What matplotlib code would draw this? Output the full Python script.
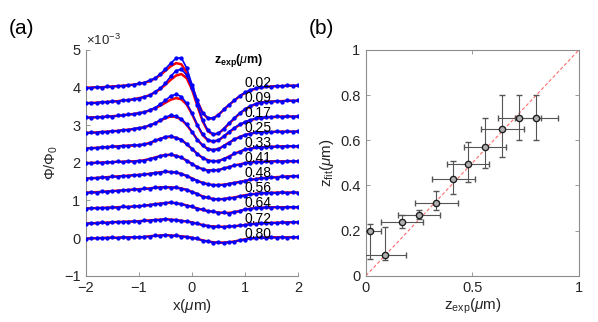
import matplotlib
matplotlib.use("Agg")
import matplotlib.pyplot as plt
import numpy as np

plt.rcParams['font.family'] = ['Liberation Sans', 'DejaVu Sans']
plt.rcParams['mathtext.fontset'] = 'custom'
plt.rcParams['mathtext.rm'] = 'Liberation Sans'
plt.rcParams['mathtext.it'] = 'Liberation Sans:italic'
plt.rcParams['mathtext.bf'] = 'Liberation Sans:bold'

# ---- panel (a): flux profiles, units of 1e-3, stacked ----
x_pos = [-2.0, -1.9, -1.8, -1.7, -1.6, -1.5, -1.4, -1.3, -1.2, -1.1, -1.0,
         -0.9, -0.8, -0.7, -0.6, -0.5, -0.4, -0.3, -0.2, -0.1, 0.0,
         0.1, 0.2, 0.3, 0.4, 0.5, 0.6, 0.7, 0.8, 0.9, 1.0,
         1.1, 1.2, 1.3, 1.4, 1.5, 1.6, 1.7, 1.8, 1.9, 2.0]
z_labels = ['0.02', '0.09', '0.17', '0.25', '0.33', '0.41', '0.48', '0.56', '0.64', '0.72', '0.80']
label_y = [4.12, 3.72, 3.32, 2.92, 2.52, 2.12, 1.72, 1.32, 0.92, 0.52, 0.12]

fit_002 = [4.00, 4.00, 4.01, 4.01, 4.02, 4.03, 4.04, 4.05, 4.06, 4.08, 4.10, 4.13, 4.17, 4.24, 4.33, 4.45, 4.57, 4.65, 4.62, 4.40, 4.03,
           3.64, 3.33, 3.18, 3.18, 3.28, 3.41, 3.54, 3.66, 3.77, 3.86, 3.92, 3.97, 4.00, 4.02, 4.03, 4.04, 4.04, 4.05, 4.05, 4.05]
dat_002 = [4.00, 3.99, 4.02, 4.00, 4.03, 4.02, 4.05, 4.04, 4.07, 4.08, 4.11, 4.13, 4.19, 4.25, 4.36, 4.50, 4.65, 4.78, 4.79, 4.52, 4.08,
           3.66, 3.32, 3.20, 3.19, 3.27, 3.42, 3.55, 3.66, 3.78, 3.87, 3.94, 3.98, 4.01, 4.03, 4.02, 4.05, 4.04, 4.06, 4.05, 4.06]
fit_009 = [3.59, 3.59, 3.60, 3.61, 3.62, 3.63, 3.64, 3.66, 3.67, 3.69, 3.72, 3.75, 3.80, 3.87, 3.96, 4.08, 4.21, 4.32, 4.36, 4.25, 3.95,
           3.52, 3.11, 2.84, 2.75, 2.78, 2.90, 3.04, 3.18, 3.31, 3.42, 3.50, 3.56, 3.60, 3.62, 3.63, 3.64, 3.64, 3.65, 3.65, 3.65]
dat_009 = [3.58, 3.60, 3.59, 3.62, 3.61, 3.64, 3.63, 3.67, 3.66, 3.70, 3.71, 3.76, 3.79, 3.89, 3.98, 4.12, 4.30, 4.45, 4.49, 4.33, 3.99,
           3.55, 3.13, 2.86, 2.77, 2.78, 2.91, 3.06, 3.19, 3.32, 3.43, 3.51, 3.57, 3.60, 3.63, 3.62, 3.65, 3.63, 3.66, 3.65, 3.66]
fit_017 = [3.20, 3.21, 3.21, 3.22, 3.23, 3.24, 3.25, 3.27, 3.28, 3.30, 3.32, 3.35, 3.39, 3.45, 3.52, 3.60, 3.68, 3.72, 3.69, 3.55, 3.30,
           3.00, 2.74, 2.60, 2.56, 2.60, 2.70, 2.81, 2.92, 3.01, 3.08, 3.13, 3.17, 3.19, 3.21, 3.22, 3.22, 3.23, 3.23, 3.23, 3.23]
dat_017 = [3.21, 3.20, 3.22, 3.21, 3.24, 3.23, 3.26, 3.26, 3.29, 3.29, 3.33, 3.34, 3.41, 3.46, 3.56, 3.66, 3.78, 3.82, 3.76, 3.58, 3.32,
           3.01, 2.76, 2.61, 2.58, 2.60, 2.71, 2.83, 2.93, 3.02, 3.09, 3.14, 3.18, 3.20, 3.22, 3.21, 3.24, 3.22, 3.24, 3.23, 3.24]
fit_025 = [2.80, 2.80, 2.81, 2.82, 2.83, 2.84, 2.85, 2.87, 2.88, 2.90, 2.92, 2.95, 2.99, 3.05, 3.12, 3.19, 3.23, 3.22, 3.15, 3.01, 2.82,
           2.62, 2.46, 2.37, 2.34, 2.37, 2.45, 2.54, 2.62, 2.69, 2.74, 2.78, 2.80, 2.81, 2.82, 2.82, 2.83, 2.83, 2.83, 2.83, 2.83]
dat_025 = [2.79, 2.81, 2.80, 2.83, 2.82, 2.85, 2.84, 2.88, 2.87, 2.91, 2.93, 2.94, 3.01, 3.05, 3.14, 3.21, 3.27, 3.24, 3.17, 3.02, 2.83,
           2.61, 2.47, 2.36, 2.35, 2.36, 2.46, 2.53, 2.63, 2.68, 2.75, 2.77, 2.81, 2.80, 2.83, 2.81, 2.84, 2.82, 2.84, 2.83, 2.84]
fit_033 = [2.39, 2.39, 2.40, 2.41, 2.42, 2.43, 2.44, 2.45, 2.46, 2.46, 2.47, 2.49, 2.53, 2.58, 2.64, 2.68, 2.69, 2.67, 2.61, 2.50, 2.37,
           2.24, 2.13, 2.07, 2.04, 2.05, 2.10, 2.17, 2.24, 2.30, 2.35, 2.38, 2.40, 2.41, 2.42, 2.43, 2.43, 2.44, 2.44, 2.44, 2.44]
dat_033 = [2.38, 2.40, 2.39, 2.42, 2.41, 2.44, 2.43, 2.46, 2.45, 2.48, 2.47, 2.50, 2.52, 2.60, 2.63, 2.70, 2.71, 2.66, 2.62, 2.49, 2.38,
           2.23, 2.14, 2.06, 2.05, 2.04, 2.11, 2.16, 2.25, 2.29, 2.36, 2.37, 2.41, 2.40, 2.43, 2.42, 2.44, 2.43, 2.45, 2.44, 2.45]
fit_041 = [1.99, 2.00, 2.00, 2.01, 2.01, 2.02, 2.03, 2.03, 2.04, 2.04, 2.05, 2.07, 2.10, 2.14, 2.18, 2.21, 2.21, 2.19, 2.14, 2.06, 1.97,
           1.89, 1.83, 1.80, 1.80, 1.81, 1.85, 1.89, 1.93, 1.96, 1.99, 2.01, 2.02, 2.03, 2.03, 2.04, 2.04, 2.04, 2.04, 2.04, 2.04]
dat_041 = [2.00, 1.99, 2.01, 2.00, 2.02, 2.01, 2.04, 2.02, 2.05, 2.03, 2.06, 2.06, 2.11, 2.13, 2.19, 2.20, 2.23, 2.18, 2.15, 2.05, 1.98,
           1.88, 1.84, 1.79, 1.81, 1.80, 1.86, 1.88, 1.94, 1.95, 2.00, 2.00, 2.03, 2.02, 2.04, 2.03, 2.05, 2.03, 2.05, 2.04, 2.05]
fit_048 = [1.59, 1.59, 1.60, 1.61, 1.62, 1.63, 1.64, 1.65, 1.66, 1.67, 1.68, 1.69, 1.71, 1.73, 1.75, 1.76, 1.76, 1.74, 1.71, 1.65, 1.59,
           1.52, 1.47, 1.43, 1.41, 1.41, 1.42, 1.44, 1.47, 1.49, 1.52, 1.55, 1.57, 1.59, 1.60, 1.61, 1.62, 1.63, 1.64, 1.64, 1.65]
dat_048 = [1.58, 1.60, 1.59, 1.62, 1.61, 1.64, 1.63, 1.66, 1.65, 1.68, 1.67, 1.70, 1.70, 1.74, 1.74, 1.78, 1.75, 1.75, 1.70, 1.66, 1.58,
           1.53, 1.46, 1.44, 1.40, 1.42, 1.41, 1.45, 1.46, 1.50, 1.51, 1.56, 1.56, 1.60, 1.59, 1.62, 1.61, 1.64, 1.63, 1.65, 1.64]
fit_056 = [1.21, 1.21, 1.22, 1.23, 1.24, 1.25, 1.26, 1.27, 1.28, 1.29, 1.30, 1.31, 1.32, 1.34, 1.35, 1.35, 1.35, 1.34, 1.32, 1.28, 1.23,
           1.17, 1.11, 1.07, 1.04, 1.03, 1.04, 1.06, 1.08, 1.11, 1.14, 1.16, 1.18, 1.19, 1.20, 1.20, 1.21, 1.21, 1.21, 1.21, 1.21]
dat_056 = [1.20, 1.22, 1.21, 1.24, 1.23, 1.26, 1.25, 1.28, 1.27, 1.30, 1.29, 1.32, 1.31, 1.35, 1.34, 1.36, 1.34, 1.35, 1.31, 1.29, 1.22,
           1.18, 1.10, 1.08, 1.03, 1.04, 1.03, 1.07, 1.07, 1.12, 1.13, 1.17, 1.17, 1.20, 1.19, 1.21, 1.20, 1.22, 1.20, 1.22, 1.21]
fit_064 = [0.79, 0.79, 0.80, 0.80, 0.81, 0.81, 0.82, 0.83, 0.83, 0.84, 0.85, 0.86, 0.88, 0.90, 0.92, 0.93, 0.94, 0.93, 0.90, 0.87, 0.83,
           0.79, 0.75, 0.72, 0.70, 0.68, 0.67, 0.67, 0.69, 0.72, 0.76, 0.78, 0.80, 0.81, 0.81, 0.82, 0.82, 0.82, 0.82, 0.82, 0.82]
dat_064 = [0.78, 0.80, 0.79, 0.81, 0.80, 0.82, 0.81, 0.84, 0.82, 0.85, 0.84, 0.87, 0.87, 0.91, 0.91, 0.94, 0.95, 0.92, 0.91, 0.86, 0.84,
           0.78, 0.76, 0.71, 0.71, 0.67, 0.68, 0.65, 0.70, 0.71, 0.77, 0.77, 0.81, 0.80, 0.82, 0.81, 0.83, 0.81, 0.83, 0.82, 0.83]
fit_072 = [0.39, 0.39, 0.40, 0.41, 0.41, 0.42, 0.43, 0.43, 0.44, 0.44, 0.45, 0.46, 0.47, 0.48, 0.49, 0.50, 0.49, 0.48, 0.46, 0.44, 0.42,
           0.38, 0.35, 0.32, 0.31, 0.30, 0.30, 0.31, 0.32, 0.33, 0.35, 0.37, 0.38, 0.39, 0.40, 0.40, 0.41, 0.41, 0.42, 0.42, 0.42]
dat_072 = [0.38, 0.40, 0.39, 0.42, 0.40, 0.43, 0.42, 0.44, 0.43, 0.45, 0.44, 0.47, 0.46, 0.49, 0.48, 0.52, 0.48, 0.49, 0.45, 0.45, 0.41,
           0.39, 0.34, 0.33, 0.30, 0.31, 0.29, 0.32, 0.31, 0.34, 0.34, 0.38, 0.37, 0.40, 0.39, 0.41, 0.40, 0.42, 0.41, 0.43, 0.42]
fit_080 = [-0.01, -0.01, 0.00, 0.00, 0.01, 0.01, 0.01, 0.02, 0.02, 0.02, 0.02, 0.03, 0.05, 0.06, 0.07, 0.08, 0.07, 0.06, 0.05, 0.03, 0.01,
           -0.02, -0.06, -0.09, -0.11, -0.12, -0.12, -0.11, -0.09, -0.06, -0.03, -0.01, 0.00, 0.01, 0.01, 0.02, 0.02, 0.02, 0.02, 0.02, 0.02]
dat_080 = [-0.02, 0.00, -0.01, 0.01, 0.00, 0.02, 0.00, 0.03, 0.01, 0.03, 0.02, 0.04, 0.04, 0.07, 0.06, 0.09, 0.06, 0.07, 0.04, 0.04, 0.00,
           -0.01, -0.07, -0.08, -0.12, -0.11, -0.13, -0.10, -0.10, -0.05, -0.04, 0.00, -0.01, 0.02, 0.00, 0.02, 0.01, 0.03, 0.01, 0.03, 0.02]

fits = [fit_002, fit_009, fit_017, fit_025, fit_033, fit_041, fit_048, fit_056, fit_064, fit_072, fit_080]
dats = [dat_002, dat_009, dat_017, dat_025, dat_033, dat_041, dat_048, dat_056, dat_064, dat_072, dat_080]

# ---- panel (b): fitted vs experimental height ----
z_exp = [0.02, 0.09, 0.17, 0.25, 0.33, 0.41, 0.48, 0.56, 0.64, 0.72, 0.80]
z_fit = [0.20, 0.09, 0.24, 0.27, 0.32, 0.43, 0.495, 0.572, 0.649, 0.70, 0.70]
zfit_err_lo = [0.125, 0.02, 0.03, 0.02, 0.027, 0.068, 0.08, 0.096, 0.125, 0.10, 0.10]
zfit_err_hi = [0.03, 0.127, 0.03, 0.02, 0.055, 0.077, 0.096, 0.125, 0.15, 0.10, 0.10]
zexp_err = [0.05, 0.1, 0.1, 0.1, 0.1, 0.1, 0.1, 0.1, 0.1, 0.1, 0.1]

spine_c = '#8c8c8c'
txt_c = '#262626'

fig = plt.figure(figsize=(5.98, 3.22), dpi=100)
ax1 = fig.add_axes([0.1438, 0.1438, 0.3545, 0.701])
ax2 = fig.add_axes([0.612, 0.1438, 0.356, 0.701])

for fy, dy in zip(fits, dats):
    ax1.plot(x_pos, fy, color='#ff0000', lw=1.8, zorder=2)
    ax1.plot(x_pos, dy, color='#0000ff', lw=1.2, marker='.', ms=4.2, zorder=3)
for lab, ly in zip(z_labels, label_y):
    ax1.text(1.0, ly, lab, fontsize=10, color='black', va='center', ha='left', zorder=4)
ax1.text(0.42, 4.72, r'z$_{\mathbf{exp}}$($\mu$m)', fontsize=9, fontweight='bold', va='center', ha='left')

ax1.set_xlim(-2, 2)
ax1.set_ylim(-1, 5)
ax1.set_xticks([-2, -1, 0, 1, 2])
ax1.set_yticks([-1, 0, 1, 2, 3, 4, 5])
ax1.spines['top'].set_visible(False)
ax1.spines['right'].set_visible(False)
ax1.set_xlabel(r'x($\mu$m)', fontsize=11, color=txt_c, labelpad=1)
ax1.set_ylabel(r'$\Phi/\Phi_0$', fontsize=10.5, color=txt_c, labelpad=3)
ax1.text(0.0, 1.01, r'$\times$10$^{-3}$', transform=ax1.transAxes, fontsize=9.5, color=txt_c, va='bottom', ha='left')

ax2.plot([0, 1], [0, 1], color='#ff6b6b', ls=(0, (3, 2)), lw=0.8, zorder=1)
ax2.errorbar(z_exp, z_fit, yerr=[zfit_err_lo, zfit_err_hi], xerr=zexp_err, fmt='o', ms=4.5,
             mfc='#b0b0b0', mec='#202020', mew=1.0, ecolor='#555555', elinewidth=0.8, capsize=2.5,
             capthick=0.8, zorder=3)
ax2.set_xlim(0, 1)
ax2.set_ylim(0, 1)
ax2.set_xticks([0, 0.5, 1])
ax2.set_xticklabels(['0', '0.5', '1'])
ax2.set_yticks([0, 0.2, 0.4, 0.6, 0.8, 1])
ax2.set_yticklabels(['0', '0.2', '0.4', '0.6', '0.8', '1'])
ax2.set_xlabel(r'z$_{\rm exp}$($\mu$m)', fontsize=11, color=txt_c, labelpad=1)
ax2.set_ylabel(r'z$_{\rm fit}$($\mu$m)', fontsize=11, color=txt_c, labelpad=3)
ax2.tick_params(top=True, right=True)

for ax in (ax1, ax2):
    for s in ax.spines.values():
        s.set_color(spine_c)
        s.set_linewidth(0.8)
    ax.tick_params(direction='in', length=3, width=0.6, color=spine_c, labelcolor=txt_c, labelsize=10.5, pad=4)

fig.text(0.036, 0.91, '(a)', fontsize=15, va='center', ha='center')
fig.text(0.537, 0.91, '(b)', fontsize=15, va='center', ha='center')

fig.savefig('out.png', dpi=100)
